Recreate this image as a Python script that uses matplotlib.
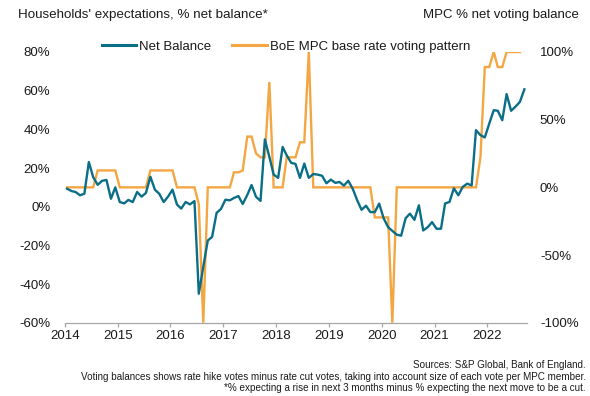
import pandas as pd
import matplotlib
matplotlib.use("Agg")
import matplotlib.pyplot as plt
import matplotlib.dates as mdates
from matplotlib.lines import Line2D
from matplotlib.ticker import FuncFormatter

# Households' expectations of the next rate move, % net balance (monthly, Jan 2014 - Sep 2022)
net_balance = [
    9.3, 8.1, 7.6, 5.9, 6.7, 23.1, 15.3, 11.3, 13.4, 13.8, 4.1, 10.0,
    2.4, 1.7, 3.5, 2.4, 7.6, 5.2, 7.1, 15.5, 8.8, 6.7, 2.4, 5.2,
    8.8, 1.1, -1.0, 2.4, 1.2, 2.9, -45.0, -31.0, -17.5, -15.6, -3.2, -1.2,
    3.6, 3.3, 4.5, 5.5, 1.4, 6.0, 11.2, 5.1, 3.0, 34.8, 25.8, 16.6,
    14.9, 30.9, 26.6, 22.7, 22.1, 14.9, 22.3, 14.9, 16.9, 16.6, 16.0, 12.1,
    14.0, 12.3, 12.8, 10.9, 13.4, 9.3, 3.5, -1.6, 0.5, -2.8, -2.8, 1.6,
    -6.0, -10.6, -12.5, -14.5, -15.0, -6.0, -3.6, -6.8, 0.7, -12.3, -10.6, -8.0,
    -11.4, -11.4, 1.6, 2.5, 9.5, 5.9, 10.2, 11.9, 11.0, 39.6, 37.0, 35.8,
    43.0, 49.9, 49.6, 44.7, 58.2, 49.6, 51.7, 54.2, 60.7,
]

# BoE MPC net voting balance on Bank Rate, % of members (monthly, Jan 2014 - Aug 2022)
mpc_balance = [
    0, 0, 0, 0, 0, 0, 0, 12.5, 12.5, 12.5, 12.5, 12.5,
    0, 0, 0, 0, 0, 0, 0, 12.5, 12.5, 12.5, 12.5, 12.5,
    12.5, 0, 0, 0, 0, 0, -12.5, -100, 0, 0, 0, 0,
    0, 0, 11.1, 11.1, 12.5, 37.5, 37.5, 25.0, 22.2, 22.2, 77.8, 0,
    0, 0, 22.2, 22.2, 22.2, 33.3, 33.3, 100, 0, 0, 0, 0,
    0, 0, 0, 0, 0, 0, 0, 0, 0, 0, -22.2, -22.2,
    -22.2, -22.2, -100, 0, 0, 0, 0, 0, 0, 0, 0, 0,
    0, 0, 0, 0, 0, 0, 0, 0, 0, 0, 22.2, 88.9,
    88.9, 100, 88.9, 88.9, 100, 100, 100, 100,
]

left_ticks = [-60, -40, -20, 0, 20, 40, 60, 80]
right_ticks = [-100, -50, 0, 50, 100]

TEAL = "#0B6E87"
ORANGE = "#F4A642"
TEXT = "#1A1A1A"

nb_dates = pd.date_range("2014-01-01", periods=len(net_balance), freq="MS") + pd.Timedelta(days=14)
mpc_dates = pd.date_range("2014-01-01", periods=len(mpc_balance), freq="MS") + pd.Timedelta(days=14)

plt.rcParams["font.family"] = ["Liberation Sans", "DejaVu Sans"]
plt.rcParams["text.color"] = TEXT

W, H = 590, 396
fig = plt.figure(figsize=(W / 100, H / 100), dpi=100)
x0, x1, ytop, ybot = 65, 526.7, 52, 322.7
ax = fig.add_axes([x0 / W, 1 - ybot / H, (x1 - x0) / W, (ybot - ytop) / H])
ax2 = ax.twinx()

ax2.plot(mpc_dates, mpc_balance, color=ORANGE, lw=1.7, solid_joinstyle="miter")
ax.plot(nb_dates, net_balance, color=TEAL, lw=1.7)
ax.set_zorder(ax2.get_zorder() + 1)
ax.patch.set_visible(False)

ax.set_xlim(pd.Timestamp("2014-01-01"), pd.Timestamp("2022-10-01"))
ax.set_ylim(-60, 80)
ax2.set_ylim(-100, 100)
ax.set_yticks(left_ticks)
ax2.set_yticks(right_ticks)
pct = FuncFormatter(lambda v, _: f"{v:.0f}%")
ax.yaxis.set_major_formatter(pct)
ax2.yaxis.set_major_formatter(pct)

ax.xaxis.set_major_locator(mdates.YearLocator())
ax.xaxis.set_major_formatter(mdates.DateFormatter("%Y"))

for a in (ax, ax2):
    for s in a.spines.values():
        s.set_visible(False)
ax.spines["bottom"].set_visible(True)
ax.spines["bottom"].set_color("#A6A6A6")
ax.spines["bottom"].set_linewidth(0.9)

ax.tick_params(axis="x", length=3, width=0.9, color="#A6A6A6", pad=2.5,
               labelsize=9.5, labelcolor=TEXT)
ax.tick_params(axis="y", length=0, pad=10.5, labelsize=9.5, labelcolor=TEXT)
ax2.tick_params(axis="y", length=0, pad=9.5, labelsize=9.5, labelcolor=TEXT)

fig.text(18 / W, 1 - 15 / H, "Households' expectations, % net balance*",
         ha="left", va="center", fontsize=9.6)
fig.text(579 / W, 1 - 15 / H, "MPC % net voting balance",
         ha="right", va="center", fontsize=9.5)

handles = [Line2D([], [], color=TEAL, lw=2.2), Line2D([], [], color=ORANGE, lw=2.2)]
fig.legend(handles, ["Net Balance", "BoE MPC base rate voting pattern"],
           loc="center", bbox_to_anchor=(286 / W, 1 - 47 / H), ncol=2,
           frameon=False, fontsize=9.5, handlelength=2.6, handletextpad=0.25,
           columnspacing=1.6, borderpad=0.2)

notes = [
    "Sources: S&P Global, Bank of England.",
    "Voting balances shows rate hike votes minus rate cut votes, taking into account size of each vote per MPC member.",
    "*% expecting a rise in next 3 months minus % expecting the next move to be a cut.",
]
for i, line in enumerate(notes):
    fig.text(586 / W, 1 - (365 + 11.5 * i) / H, line, ha="right", va="center", fontsize=7.1)

fig.savefig("out.png", dpi=100)
